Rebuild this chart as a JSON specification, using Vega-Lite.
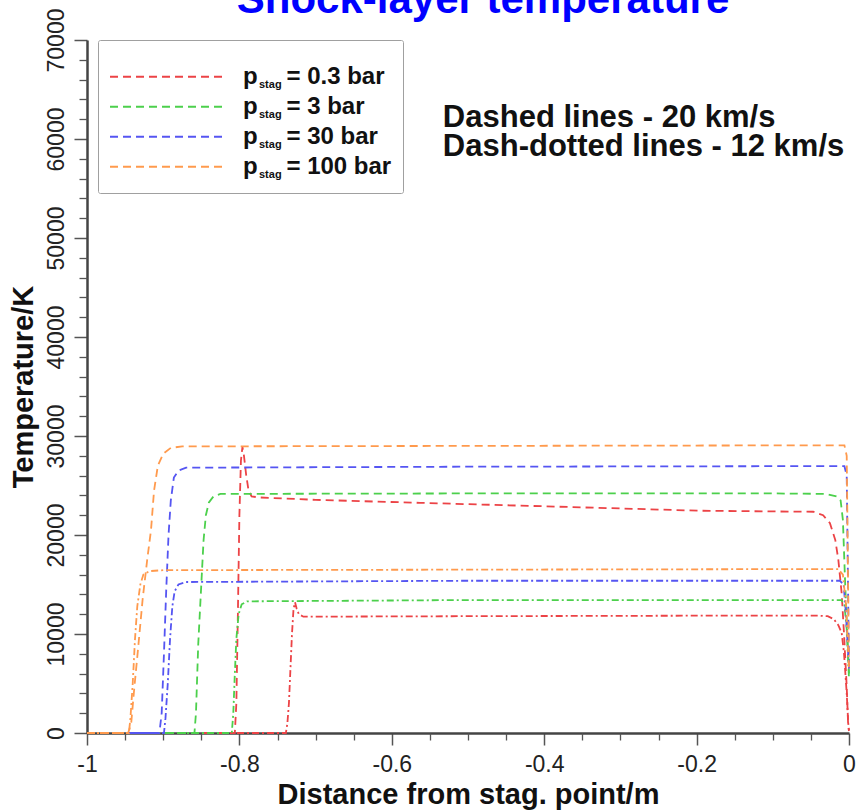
{
  "$schema": "https://vega.github.io/schema/vega-lite/v6.json",
  "width": 762,
  "height": 693,
  "autosize": {"type": "none"},
  "padding": {"left": 87, "top": 40, "right": 7, "bottom": 78},
  "background": "white",
  "config": {
    "view": {"stroke": null},
    "font": "Liberation Sans",
    "axis": {"labelFont": "Liberation Sans", "titleFont": "Liberation Sans", "grid": false, "domainColor": "#444", "tickColor": "#555", "labelColor": "#222", "titleColor": "#111"},
    "legend": {"labelFont": "Liberation Sans", "titleFont": "Liberation Sans"}
  },
  "title": {"text": "Shock-layer temperature", "font": "Liberation Sans", "fontSize": 42, "fontWeight": "bold", "color": "#0000ff", "anchor": "middle", "frame": "group", "dx": 15, "dy": 47, "baseline": "alphabetic", "offset": 0},
  "data": {
    "values": [
      {"d": -1, "T": 0, "p": "0.3 bar", "v": "20 km/s"},
      {"d": -0.806, "T": 0, "p": "0.3 bar", "v": "20 km/s"},
      {"d": -0.804, "T": 3000, "p": "0.3 bar", "v": "20 km/s"},
      {"d": -0.802, "T": 12000, "p": "0.3 bar", "v": "20 km/s"},
      {"d": -0.8, "T": 22000, "p": "0.3 bar", "v": "20 km/s"},
      {"d": -0.798, "T": 27500, "p": "0.3 bar", "v": "20 km/s"},
      {"d": -0.796, "T": 28900, "p": "0.3 bar", "v": "20 km/s"},
      {"d": -0.794, "T": 28000, "p": "0.3 bar", "v": "20 km/s"},
      {"d": -0.791, "T": 26000, "p": "0.3 bar", "v": "20 km/s"},
      {"d": -0.788, "T": 24500, "p": "0.3 bar", "v": "20 km/s"},
      {"d": -0.784, "T": 23900, "p": "0.3 bar", "v": "20 km/s"},
      {"d": -0.775, "T": 23800, "p": "0.3 bar", "v": "20 km/s"},
      {"d": -0.7, "T": 23550, "p": "0.3 bar", "v": "20 km/s"},
      {"d": -0.563, "T": 23250, "p": "0.3 bar", "v": "20 km/s"},
      {"d": -0.4, "T": 22900, "p": "0.3 bar", "v": "20 km/s"},
      {"d": -0.196, "T": 22450, "p": "0.3 bar", "v": "20 km/s"},
      {"d": -0.1, "T": 22380, "p": "0.3 bar", "v": "20 km/s"},
      {"d": -0.047, "T": 22350, "p": "0.3 bar", "v": "20 km/s"},
      {"d": -0.034, "T": 22000, "p": "0.3 bar", "v": "20 km/s"},
      {"d": -0.025, "T": 21200, "p": "0.3 bar", "v": "20 km/s"},
      {"d": -0.018, "T": 19500, "p": "0.3 bar", "v": "20 km/s"},
      {"d": -0.014, "T": 17500, "p": "0.3 bar", "v": "20 km/s"},
      {"d": -0.0096, "T": 14100, "p": "0.3 bar", "v": "20 km/s"},
      {"d": -0.0066, "T": 10100, "p": "0.3 bar", "v": "20 km/s"},
      {"d": -0.003, "T": 4650, "p": "0.3 bar", "v": "20 km/s"},
      {"d": -0.001, "T": 600, "p": "0.3 bar", "v": "20 km/s"},
      {"d": 0, "T": 200, "p": "0.3 bar", "v": "20 km/s"},

      {"d": -1, "T": 0, "p": "3 bar", "v": "20 km/s"},
      {"d": -0.859, "T": 0, "p": "3 bar", "v": "20 km/s"},
      {"d": -0.857, "T": 2000, "p": "3 bar", "v": "20 km/s"},
      {"d": -0.854, "T": 9000, "p": "3 bar", "v": "20 km/s"},
      {"d": -0.85, "T": 15000, "p": "3 bar", "v": "20 km/s"},
      {"d": -0.847, "T": 19500, "p": "3 bar", "v": "20 km/s"},
      {"d": -0.844, "T": 22000, "p": "3 bar", "v": "20 km/s"},
      {"d": -0.84, "T": 23300, "p": "3 bar", "v": "20 km/s"},
      {"d": -0.834, "T": 23900, "p": "3 bar", "v": "20 km/s"},
      {"d": -0.825, "T": 24150, "p": "3 bar", "v": "20 km/s"},
      {"d": -0.5, "T": 24200, "p": "3 bar", "v": "20 km/s"},
      {"d": -0.1, "T": 24200, "p": "3 bar", "v": "20 km/s"},
      {"d": -0.03, "T": 24150, "p": "3 bar", "v": "20 km/s"},
      {"d": -0.016, "T": 23900, "p": "3 bar", "v": "20 km/s"},
      {"d": -0.011, "T": 23500, "p": "3 bar", "v": "20 km/s"},
      {"d": -0.008, "T": 21500, "p": "3 bar", "v": "20 km/s"},
      {"d": -0.005, "T": 15000, "p": "3 bar", "v": "20 km/s"},
      {"d": 0, "T": 6000, "p": "3 bar", "v": "20 km/s"},

      {"d": -1, "T": 0, "p": "30 bar", "v": "20 km/s"},
      {"d": -0.905, "T": 0, "p": "30 bar", "v": "20 km/s"},
      {"d": -0.902, "T": 2000, "p": "30 bar", "v": "20 km/s"},
      {"d": -0.899, "T": 8000, "p": "30 bar", "v": "20 km/s"},
      {"d": -0.896, "T": 14500, "p": "30 bar", "v": "20 km/s"},
      {"d": -0.893, "T": 20000, "p": "30 bar", "v": "20 km/s"},
      {"d": -0.89, "T": 23500, "p": "30 bar", "v": "20 km/s"},
      {"d": -0.886, "T": 25800, "p": "30 bar", "v": "20 km/s"},
      {"d": -0.88, "T": 26500, "p": "30 bar", "v": "20 km/s"},
      {"d": -0.87, "T": 26800, "p": "30 bar", "v": "20 km/s"},
      {"d": -0.5, "T": 26900, "p": "30 bar", "v": "20 km/s"},
      {"d": -0.1, "T": 26950, "p": "30 bar", "v": "20 km/s"},
      {"d": -0.006, "T": 26950, "p": "30 bar", "v": "20 km/s"},
      {"d": -0.003, "T": 26000, "p": "30 bar", "v": "20 km/s"},
      {"d": 0, "T": 6500, "p": "30 bar", "v": "20 km/s"},

      {"d": -1, "T": 0, "p": "100 bar", "v": "20 km/s"},
      {"d": -0.946, "T": 0, "p": "100 bar", "v": "20 km/s"},
      {"d": -0.942, "T": 1000, "p": "100 bar", "v": "20 km/s"},
      {"d": -0.938, "T": 4500, "p": "100 bar", "v": "20 km/s"},
      {"d": -0.933, "T": 8500, "p": "100 bar", "v": "20 km/s"},
      {"d": -0.927, "T": 13500, "p": "100 bar", "v": "20 km/s"},
      {"d": -0.921, "T": 17500, "p": "100 bar", "v": "20 km/s"},
      {"d": -0.916, "T": 20500, "p": "100 bar", "v": "20 km/s"},
      {"d": -0.912, "T": 24500, "p": "100 bar", "v": "20 km/s"},
      {"d": -0.907, "T": 27000, "p": "100 bar", "v": "20 km/s"},
      {"d": -0.9, "T": 28200, "p": "100 bar", "v": "20 km/s"},
      {"d": -0.89, "T": 28800, "p": "100 bar", "v": "20 km/s"},
      {"d": -0.875, "T": 28950, "p": "100 bar", "v": "20 km/s"},
      {"d": -0.5, "T": 29000, "p": "100 bar", "v": "20 km/s"},
      {"d": -0.1, "T": 29050, "p": "100 bar", "v": "20 km/s"},
      {"d": -0.006, "T": 29050, "p": "100 bar", "v": "20 km/s"},
      {"d": -0.003, "T": 28000, "p": "100 bar", "v": "20 km/s"},
      {"d": 0, "T": 6500, "p": "100 bar", "v": "20 km/s"},

      {"d": -1, "T": 0, "p": "0.3 bar", "v": "12 km/s"},
      {"d": -0.739, "T": 0, "p": "0.3 bar", "v": "12 km/s"},
      {"d": -0.737, "T": 1000, "p": "0.3 bar", "v": "12 km/s"},
      {"d": -0.735, "T": 3000, "p": "0.3 bar", "v": "12 km/s"},
      {"d": -0.733, "T": 6500, "p": "0.3 bar", "v": "12 km/s"},
      {"d": -0.731, "T": 10000, "p": "0.3 bar", "v": "12 km/s"},
      {"d": -0.729, "T": 12500, "p": "0.3 bar", "v": "12 km/s"},
      {"d": -0.727, "T": 13200, "p": "0.3 bar", "v": "12 km/s"},
      {"d": -0.725, "T": 12600, "p": "0.3 bar", "v": "12 km/s"},
      {"d": -0.722, "T": 12000, "p": "0.3 bar", "v": "12 km/s"},
      {"d": -0.716, "T": 11750, "p": "0.3 bar", "v": "12 km/s"},
      {"d": -0.5, "T": 11800, "p": "0.3 bar", "v": "12 km/s"},
      {"d": -0.2, "T": 11850, "p": "0.3 bar", "v": "12 km/s"},
      {"d": -0.04, "T": 11850, "p": "0.3 bar", "v": "12 km/s"},
      {"d": -0.028, "T": 11800, "p": "0.3 bar", "v": "12 km/s"},
      {"d": -0.02, "T": 11500, "p": "0.3 bar", "v": "12 km/s"},
      {"d": -0.014, "T": 10900, "p": "0.3 bar", "v": "12 km/s"},
      {"d": -0.0096, "T": 10100, "p": "0.3 bar", "v": "12 km/s"},
      {"d": -0.0066, "T": 8100, "p": "0.3 bar", "v": "12 km/s"},
      {"d": -0.003, "T": 4000, "p": "0.3 bar", "v": "12 km/s"},
      {"d": -0.001, "T": 1000, "p": "0.3 bar", "v": "12 km/s"},
      {"d": 0, "T": 300, "p": "0.3 bar", "v": "12 km/s"},

      {"d": -1, "T": 0, "p": "3 bar", "v": "12 km/s"},
      {"d": -0.81, "T": 0, "p": "3 bar", "v": "12 km/s"},
      {"d": -0.808, "T": 2000, "p": "3 bar", "v": "12 km/s"},
      {"d": -0.806, "T": 6000, "p": "3 bar", "v": "12 km/s"},
      {"d": -0.804, "T": 9500, "p": "3 bar", "v": "12 km/s"},
      {"d": -0.801, "T": 12000, "p": "3 bar", "v": "12 km/s"},
      {"d": -0.797, "T": 13000, "p": "3 bar", "v": "12 km/s"},
      {"d": -0.79, "T": 13300, "p": "3 bar", "v": "12 km/s"},
      {"d": -0.5, "T": 13430, "p": "3 bar", "v": "12 km/s"},
      {"d": -0.01, "T": 13430, "p": "3 bar", "v": "12 km/s"},
      {"d": -0.006, "T": 13000, "p": "3 bar", "v": "12 km/s"},
      {"d": -0.003, "T": 10500, "p": "3 bar", "v": "12 km/s"},
      {"d": 0, "T": 5500, "p": "3 bar", "v": "12 km/s"},

      {"d": -1, "T": 0, "p": "30 bar", "v": "12 km/s"},
      {"d": -0.899, "T": 0, "p": "30 bar", "v": "12 km/s"},
      {"d": -0.897, "T": 1500, "p": "30 bar", "v": "12 km/s"},
      {"d": -0.894, "T": 5000, "p": "30 bar", "v": "12 km/s"},
      {"d": -0.891, "T": 9500, "p": "30 bar", "v": "12 km/s"},
      {"d": -0.888, "T": 12800, "p": "30 bar", "v": "12 km/s"},
      {"d": -0.885, "T": 14300, "p": "30 bar", "v": "12 km/s"},
      {"d": -0.88, "T": 15000, "p": "30 bar", "v": "12 km/s"},
      {"d": -0.87, "T": 15250, "p": "30 bar", "v": "12 km/s"},
      {"d": -0.5, "T": 15380, "p": "30 bar", "v": "12 km/s"},
      {"d": -0.012, "T": 15380, "p": "30 bar", "v": "12 km/s"},
      {"d": -0.007, "T": 15000, "p": "30 bar", "v": "12 km/s"},
      {"d": -0.004, "T": 12000, "p": "30 bar", "v": "12 km/s"},
      {"d": 0, "T": 6500, "p": "30 bar", "v": "12 km/s"},

      {"d": -1, "T": 0, "p": "100 bar", "v": "12 km/s"},
      {"d": -0.945, "T": 0, "p": "100 bar", "v": "12 km/s"},
      {"d": -0.943, "T": 1500, "p": "100 bar", "v": "12 km/s"},
      {"d": -0.94, "T": 5000, "p": "100 bar", "v": "12 km/s"},
      {"d": -0.937, "T": 9500, "p": "100 bar", "v": "12 km/s"},
      {"d": -0.934, "T": 12800, "p": "100 bar", "v": "12 km/s"},
      {"d": -0.93, "T": 15000, "p": "100 bar", "v": "12 km/s"},
      {"d": -0.926, "T": 16000, "p": "100 bar", "v": "12 km/s"},
      {"d": -0.918, "T": 16350, "p": "100 bar", "v": "12 km/s"},
      {"d": -0.9, "T": 16450, "p": "100 bar", "v": "12 km/s"},
      {"d": -0.5, "T": 16500, "p": "100 bar", "v": "12 km/s"},
      {"d": -0.1, "T": 16550, "p": "100 bar", "v": "12 km/s"},
      {"d": -0.014, "T": 16550, "p": "100 bar", "v": "12 km/s"},
      {"d": -0.008, "T": 16000, "p": "100 bar", "v": "12 km/s"},
      {"d": -0.004, "T": 13000, "p": "100 bar", "v": "12 km/s"},
      {"d": 0, "T": 6500, "p": "100 bar", "v": "12 km/s"}
    ]
  },
  "layer": [
    {
      "mark": {"type": "line", "strokeWidth": 1.8},
      "encoding": {
        "x": {
          "field": "d", "type": "quantitative",
          "scale": {"domain": [-1, 0], "nice": false, "zero": false},
          "axis": {
            "orient": "bottom", "values": [-1, -0.8, -0.6, -0.4, -0.2, 0],
            "labelExpr": "'' + datum.value", "labelFontSize": 23, "labelPadding": 8,
            "labelFlush": false, "labelOverlap": false,
            "tickSize": 12, "tickWidth": 1.5, "domainWidth": 2.5,
            "title": "Distance from stag. point/m", "titleFontSize": 29, "titleFontWeight": "bold", "titlePadding": 4
          }
        },
        "y": {
          "field": "T", "type": "quantitative",
          "scale": {"domain": [0, 70000], "nice": false},
          "axis": {
            "orient": "left", "values": [0, 10000, 20000, 30000, 40000, 50000, 60000, 70000],
            "labelExpr": "'' + datum.value", "labelAngle": -90, "labelAlign": "center", "labelBaseline": "alphabetic",
            "labelFontSize": 23, "labelPadding": 11, "labelFlush": false, "labelOverlap": false,
            "tickSize": 13, "tickWidth": 1.5, "domainWidth": 2.5,
            "title": "Temperature/K", "titleFontSize": 29, "titleFontWeight": "bold", "titlePadding": 7
          }
        },
        "color": {
          "field": "p", "type": "nominal",
          "scale": {"domain": ["0.3 bar", "3 bar", "30 bar", "100 bar"], "range": ["#ec4346", "#4cd04c", "#5555f2", "#ff9a4d"]},
          "legend": {
            "orient": "none", "legendX": 11, "legendY": 0,
            "title": "\u00a0", "titleFontSize": 6, "titlePadding": 5,
            "padding": 11, "strokeColor": "#a0a0a0", "cornerRadius": 2,
            "symbolType": "stroke", "symbolSize": 12544, "symbolStrokeWidth": 1.8, "symbolDash": [8, 5],
            "clipHeight": 29.5, "rowPadding": 0,
            "labelFontSize": 24, "labelFontWeight": "bold", "labelColor": "#111", "labelOffset": 20, "labelLimit": 400,
            "labelExpr": "'p\u2003\u2009= ' + datum.label + '\u2003'"
          }
        },
        "strokeDash": {
          "field": "v", "type": "nominal",
          "scale": {"domain": ["20 km/s", "12 km/s"], "range": [[8, 5], [7, 3, 2, 3]]},
          "legend": null
        }
      }
    },
    {
      "mark": {"type": "point", "opacity": 0},
      "encoding": {
        "x": {
          "field": "d", "type": "quantitative",
          "axis": {
            "orient": "bottom", "values": [-0.95, -0.9, -0.85, -0.75, -0.7, -0.65, -0.55, -0.5, -0.45, -0.35, -0.3, -0.25, -0.15, -0.1, -0.05],
            "labels": false, "domain": false, "tickSize": 7, "tickWidth": 1.3, "title": null
          }
        },
        "y": {
          "field": "T", "type": "quantitative",
          "axis": {
            "orient": "left", "values": [2000, 4000, 6000, 8000, 12000, 14000, 16000, 18000, 22000, 24000, 26000, 28000, 32000, 34000, 36000, 38000, 42000, 44000, 46000, 48000, 52000, 54000, 56000, 58000, 62000, 64000, 66000, 68000],
            "labels": false, "domain": false, "tickSize": 8, "tickWidth": 1.3, "title": null
          }
        },
        "shape": {
          "field": "p", "type": "nominal",
          "sort": ["0.3 bar", "3 bar", "30 bar", "100 bar"],
          "legend": {
            "orient": "none", "legendX": 149, "legendY": 8,
            "title": "\u00a0", "titleFontSize": 6, "titlePadding": 5,
            "padding": 11, "symbolOpacity": 0, "symbolSize": 100,
            "clipHeight": 29.5, "rowPadding": 0,
            "labelFontSize": 11, "labelFontWeight": "bold", "labelColor": "#111", "labelOffset": 0,
            "labelExpr": "'stag'"
          }
        }
      }
    },
    {
      "data": {"values": [{}]},
      "mark": {
        "type": "text",
        "text": ["Dashed lines - 20 km/s", "Dash-dotted lines - 12 km/s"],
        "align": "left", "baseline": "alphabetic",
        "font": "Liberation Sans", "fontSize": 31, "fontWeight": "bold", "lineHeight": 29, "color": "#111"
      },
      "encoding": {
        "x": {"datum": -0.533, "type": "quantitative", "axis": null},
        "y": {"datum": 61200, "type": "quantitative", "axis": null}
      }
    }
  ],
  "resolve": {"axis": {"x": "independent", "y": "independent"}}
}
